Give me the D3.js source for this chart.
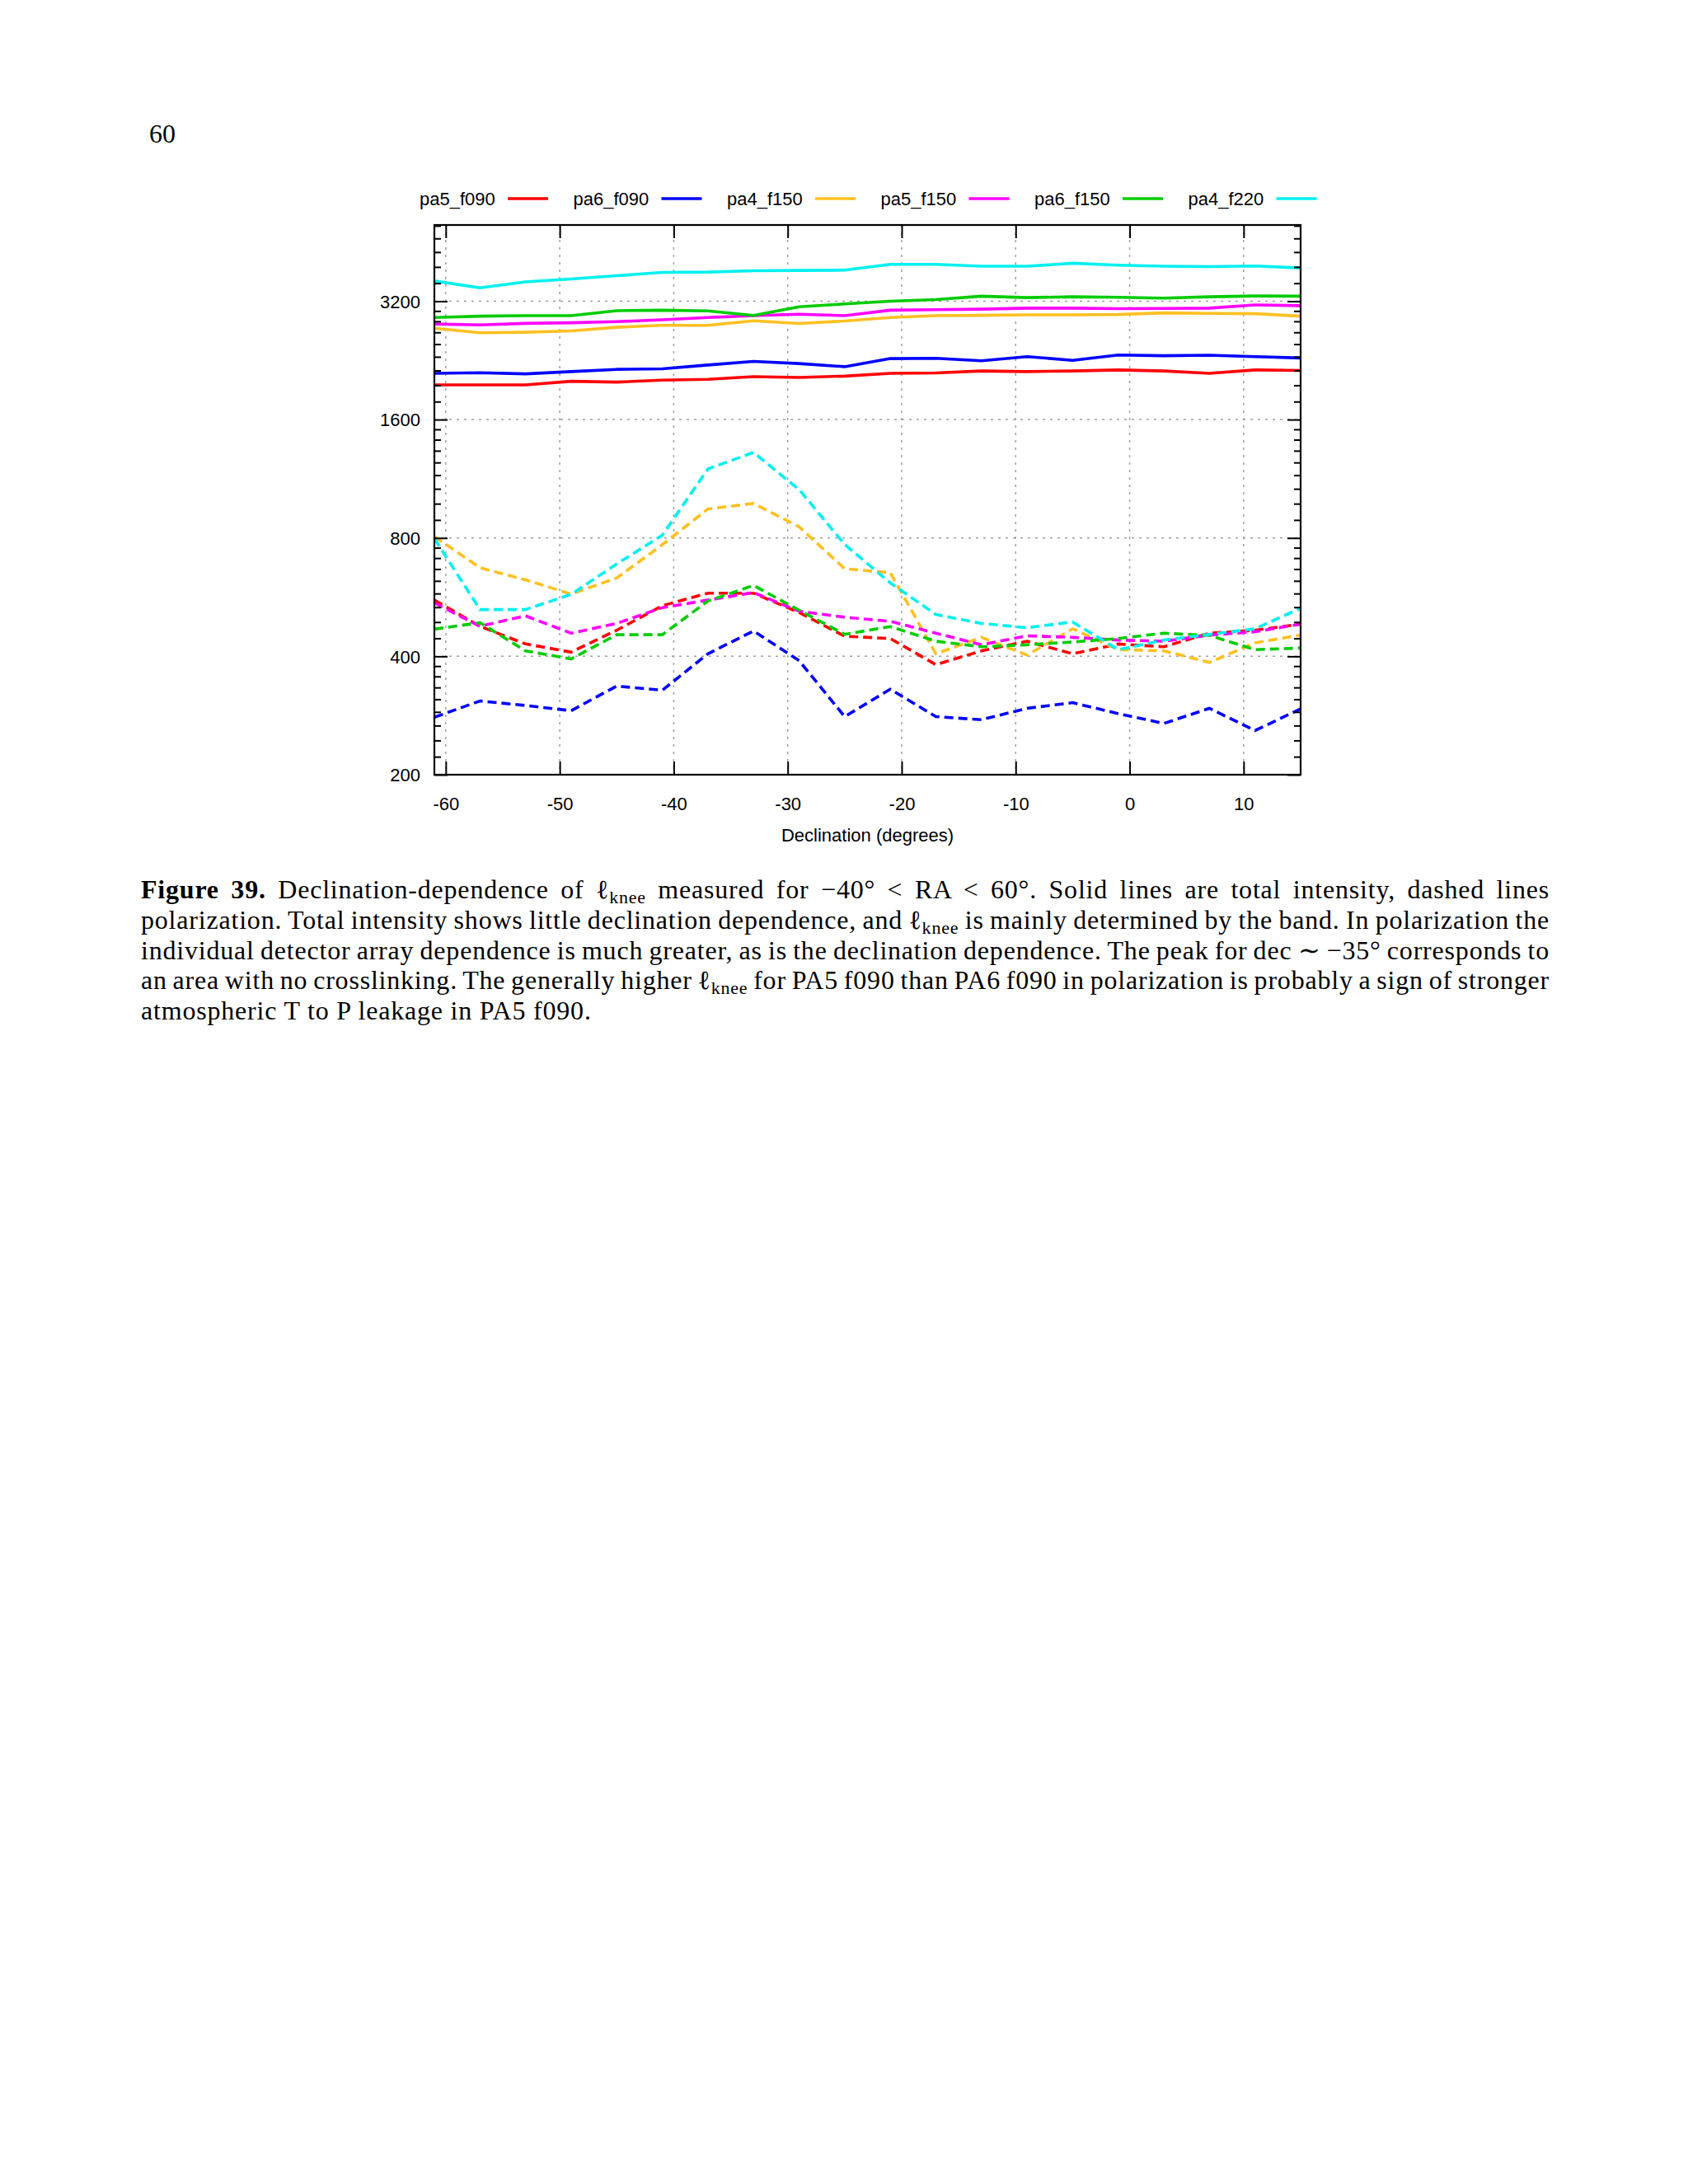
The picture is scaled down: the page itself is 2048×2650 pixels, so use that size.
<!DOCTYPE html>
<html>
<head>
<meta charset="utf-8">
<script src="https://cdn.jsdelivr.net/npm/d3@7"></script>
<style>
  html, body { margin: 0; padding: 0; background: #fff; }
  svg { display: block; }
</style>
</head>
<body>
<svg id="chart" width="2048" height="2650"></svg>
<script>
// ---------- data ----------
const declination = [-61, -57, -53, -49, -45, -41, -37, -33, -29, -25, -21, -17, -13, -9, -5, -1, 3, 7, 11, 15];
const seriesNames = ["pa5_f090", "pa6_f090", "pa4_f150", "pa5_f150", "pa6_f150", "pa4_f220"];
const seriesColors = ["#ff0000", "#0000ff", "#ffc020", "#ff00ff", "#00cc00", "#00f0f0"];

// total intensity (solid)
const pa5_f090_T = [1960, 1960, 1960, 2002, 1993, 2015, 2025, 2058, 2048, 2064, 2098, 2102, 2127, 2119, 2127, 2140, 2127, 2098, 2140, 2134];
const pa6_f090_T = [2098, 2105, 2091, 2119, 2147, 2154, 2203, 2250, 2221, 2181, 2287, 2290, 2257, 2313, 2264, 2336, 2325, 2332, 2313, 2295];
const pa4_f150_T = [2733, 2660, 2668, 2690, 2747, 2778, 2778, 2854, 2809, 2850, 2909, 2941, 2946, 2955, 2955, 2960, 2989, 2979, 2975, 2932];
const pa5_f150_T = [2800, 2786, 2811, 2820, 2839, 2871, 2909, 2941, 2965, 2941, 3036, 3045, 3055, 3073, 3073, 3064, 3068, 3073, 3131, 3117];
const pa6_f150_T = [2909, 2932, 2941, 2941, 3028, 3036, 3023, 2945, 3098, 3149, 3200, 3231, 3295, 3268, 3284, 3273, 3257, 3284, 3300, 3295];
const pa4_f220_T = [3603, 3460, 3585, 3646, 3716, 3789, 3795, 3826, 3832, 3838, 3971, 3971, 3927, 3927, 3997, 3952, 3927, 3920, 3933, 3888];

// polarization (dashed)
const pa5_f090_P = [556, 477, 430, 410, 466, 538, 579, 579, 517, 450, 444, 381, 413, 437, 406, 430, 423, 458, 466, 483];
const pa6_f090_P = [280, 308, 300, 291, 336, 328, 406, 464, 390, 281, 330, 281, 276, 295, 305, 286, 270, 295, 259, 294];
const pa4_f150_P = [807, 672, 626, 576, 633, 769, 948, 979, 854, 668, 653, 406, 447, 403, 470, 416, 413, 386, 433, 453];
const pa5_f150_P = [547, 477, 507, 458, 485, 532, 556, 581, 521, 503, 491, 458, 428, 451, 447, 440, 437, 453, 462, 483];
const pa6_f150_P = [469, 487, 413, 394, 454, 454, 553, 606, 524, 455, 476, 437, 423, 428, 435, 444, 458, 452, 416, 420];
const pa4_f220_P = [797, 526, 526, 575, 687, 813, 1198, 1320, 1062, 770, 615, 511, 485, 473, 489, 416, 440, 455, 470, 530];

const solidSeries = [pa5_f090_T, pa6_f090_T, pa4_f150_T, pa5_f150_T, pa6_f150_T, pa4_f220_T];
const dashedSeries = [pa5_f090_P, pa6_f090_P, pa4_f150_P, pa5_f150_P, pa6_f150_P, pa4_f220_P];

const xTickValues = [-60, -50, -40, -30, -20, -10, 0, 10];
const yTickValues = [200, 400, 800, 1600, 3200];
const xDomain = [-61, 15];
const yDomain = [200, 5000];
const xTitle = "Declination (degrees)";
const pageNumber = "60";

const captionLines = [
  [{t: "Figure 39.", b: true}, {t: " Declination-dependence of "}, {t: "ℓ"}, {t: "knee", sub: true}, {t: " measured for −40° < RA < 60°. Solid lines are total intensity, dashed lines"}],
  [{t: "polarization. Total intensity shows little declination dependence, and "}, {t: "ℓ"}, {t: "knee", sub: true}, {t: " is mainly determined by the band. In polarization the"}],
  [{t: "individual detector array dependence is much greater, as is the declination dependence. The peak for dec ∼ −35° corresponds to"}],
  [{t: "an area with no crosslinking. The generally higher "}, {t: "ℓ"}, {t: "knee", sub: true}, {t: " for PA5 f090 than PA6 f090 in polarization is probably a sign of stronger"}],
  [{t: "atmospheric T to P leakage in PA5 f090."}]
];

// ---------- layout ----------
const svg = d3.select("#chart");
const L = 527, R = 1578, T = 273, B = 940;
const sansFont = "'Liberation Sans', Arial, Helvetica, sans-serif";
const serifFont = "'Liberation Serif', 'Times New Roman', serif";

const x = d3.scaleLinear().domain(xDomain).range([L, R]);
const y = d3.scaleLog().base(2).domain(yDomain).range([B, T]);

// minor y ticks (8 per doubling)
const yMinor = [];
yTickValues.forEach(v => { for (let k = 1; k <= 8; k++) { const m = v * (1 + k / 9); if (m < yDomain[1]) yMinor.push(m); } });

// page number
svg.append("text").attr("x", 181).attr("y", 173)
  .style("font-family", serifFont).style("font-size", "32px").text(pageNumber);

// grid
const grid = svg.append("g");
grid.selectAll("line.gx").data(xTickValues).enter().append("line")
  .attr("x1", d => x(d)).attr("x2", d => x(d)).attr("y1", T).attr("y2", B)
  .attr("stroke", "#a0a0a0").attr("stroke-width", 1.5).attr("stroke-dasharray", "3,6");
grid.selectAll("line.gy").data(yTickValues.filter(v => v > yDomain[0])).enter().append("line")
  .attr("x1", L).attr("x2", R).attr("y1", d => y(d)).attr("y2", d => y(d))
  .attr("stroke", "#a0a0a0").attr("stroke-width", 1.5).attr("stroke-dasharray", "3,6");

// data lines
const line = d3.line().x((d, i) => x(declination[i])).y(d => y(d));
const plot = svg.append("g");
solidSeries.forEach((s, i) => {
  plot.append("path").datum(s).attr("d", line).attr("fill", "none")
    .attr("stroke", seriesColors[i]).attr("stroke-width", 3.6).attr("stroke-linejoin", "round");
});
dashedSeries.forEach((s, i) => {
  plot.append("path").datum(s).attr("d", line).attr("fill", "none")
    .attr("stroke", seriesColors[i]).attr("stroke-width", 3.6).attr("stroke-dasharray", "11,6");
});

// axes
const plainFmt = d => String(d);
function styleAxis(g) {
  g.select(".domain").remove();
  g.selectAll(".tick line").attr("stroke", "#000").attr("stroke-width", 2);
  g.selectAll(".tick text").style("font-family", sansFont).style("font-size", "22px").attr("fill", "#000");
}
svg.append("g").attr("transform", `translate(0,${B})`)
  .call(d3.axisBottom(x).tickValues(xTickValues).tickSize(-16).tickPadding(0).tickFormat(plainFmt))
  .call(styleAxis)
  .call(g => g.selectAll(".tick text").attr("y", 43).attr("dy", 0));
svg.append("g").attr("transform", `translate(0,${T})`)
  .call(d3.axisTop(x).tickValues(xTickValues).tickSize(-16).tickFormat(""))
  .call(styleAxis);
svg.append("g").attr("transform", `translate(${L},0)`)
  .call(d3.axisLeft(y).tickValues(yTickValues).tickSize(-16).tickPadding(0).tickFormat(plainFmt))
  .call(styleAxis)
  .call(g => g.selectAll(".tick text").attr("x", -17).attr("dy", "0.35em"));
svg.append("g").attr("transform", `translate(${L},0)`)
  .call(d3.axisLeft(y).tickValues(yMinor).tickSize(-8).tickFormat(""))
  .call(styleAxis);
svg.append("g").attr("transform", `translate(${R},0)`)
  .call(d3.axisRight(y).tickValues(yTickValues).tickSize(-16).tickFormat(""))
  .call(styleAxis);
svg.append("g").attr("transform", `translate(${R},0)`)
  .call(d3.axisRight(y).tickValues(yMinor).tickSize(-8).tickFormat(""))
  .call(styleAxis);

// border
svg.append("rect").attr("x", L).attr("y", T).attr("width", R - L).attr("height", B - T)
  .attr("fill", "none").attr("stroke", "#000").attr("stroke-width", 2.2);

// x title
svg.append("text").attr("x", (L + R) / 2).attr("y", 1021).attr("text-anchor", "middle")
  .style("font-family", sansFont).style("font-size", "22px").text(xTitle);

// legend
const legend = svg.append("g");
seriesNames.forEach((n, i) => {
  const x0 = 509 + i * 186.5;
  legend.append("text").attr("x", x0).attr("y", 248.5)
    .style("font-family", sansFont).style("font-size", "22px").text(n);
  legend.append("line").attr("x1", x0 + 107).attr("x2", x0 + 156).attr("y1", 241).attr("y2", 241)
    .attr("stroke", seriesColors[i]).attr("stroke-width", 3.6);
});

// caption
const capLeft = 171, capRight = 1880, capTop = 1090, capStep = 36.8;
captionLines.forEach((segs, li) => {
  const t = svg.append("text").attr("x", capLeft).attr("y", capTop + li * capStep)
    .style("font-family", serifFont).style("font-size", "32px").style("letter-spacing", "0.8px").attr("fill", "#000");
  let shifted = false;
  segs.forEach(s => {
    const ts = t.append("tspan").text(s.t);
    if (s.b) ts.style("font-weight", "bold");
    if (s.sub) { ts.style("font-size", "22px").attr("dy", 6); shifted = true; }
    else if (shifted) { ts.attr("dy", -6); shifted = false; }
  });
  if (li < captionLines.length - 1) {
    const natural = t.node().getComputedTextLength();
    const nSpaces = segs.map(s => s.t).join("").split(" ").length - 1;
    t.attr("word-spacing", (capRight - capLeft - natural) / nSpaces);
  }
});
</script>
</body>
</html>
